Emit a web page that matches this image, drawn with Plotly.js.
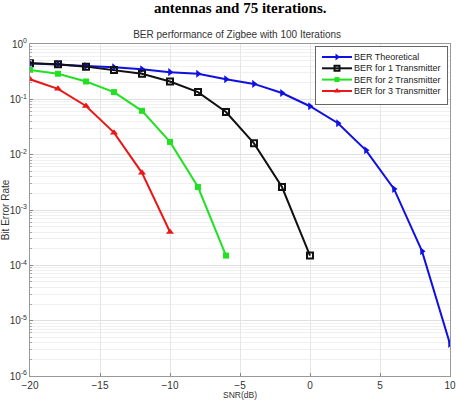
<!DOCTYPE html>
<html>
<head>
<meta charset="utf-8">
<script src="https://cdn.plot.ly/plotly-3.0.1.min.js"></script>
<style>html,body{margin:0;padding:0;background:#fff;}#chart{width:456px;height:400px;}</style>
</head>
<body>
<div id="chart"></div>
<script>
// Data
const snrTheory = [-20, -18, -16, -14, -12, -10, -8, -6, -4, -2, 0, 2, 4, 6, 8, 10];
const berTheory = [0.45, 0.43, 0.40, 0.38, 0.35, 0.31, 0.29, 0.23, 0.19, 0.13, 0.075, 0.037, 0.012, 0.0024, 1.8e-4, 3.8e-6];
const snr1 = [-20, -18, -16, -14, -12, -10, -8, -6, -4, -2, 0];
const ber1 = [0.45, 0.43, 0.39, 0.34, 0.29, 0.21, 0.135, 0.059, 0.016, 0.0026, 1.5e-4];
const snr2 = [-20, -18, -16, -14, -12, -10, -8, -6];
const ber2 = [0.34, 0.29, 0.21, 0.135, 0.062, 0.017, 0.0026, 1.5e-4];
const snr3 = [-20, -18, -16, -14, -12, -10];
const ber3 = [0.23, 0.155, 0.076, 0.025, 0.0047, 4.0e-4];
const seriesNames = ['BER Theoretical', 'BER for 1 Transmitter', 'BER for 2 Transmitter', 'BER for 3 Transmitter'];
const xTicks = [-20, -15, -10, -5, 0, 5, 10];
const yTickVals = [1, 0.1, 0.01, 0.001, 1e-4, 1e-5, 1e-6];
const yTickText = ['10<sup>0</sup>', '10<sup>-1</sup>', '10<sup>-2</sup>', '10<sup>-3</sup>', '10<sup>-4</sup>', '10<sup>-5</sup>', '10<sup>-6</sup>'];

const colors = ['#1010e0', '#111111', '#22e022', '#e81818'];
const symbols = ['triangle-right', 'square-open', 'square', 'triangle-up'];
const sizes = [7, 6, 6, 7];
const xs = [snrTheory, snr1, snr2, snr3];
const ys = [berTheory, ber1, ber2, ber3];

const FONT = 'Arial, Liberation Sans, sans-serif';
const traces = [];
for (let i = 0; i < 4; i++) {
  traces.push({x: xs[i], y: ys[i], name: seriesNames[i], mode: 'lines+markers', showlegend: false,
    line: {color: colors[i], width: 2},
    marker: {symbol: symbols[i], size: sizes[i], color: colors[i], line: {width: i === 1 ? 2 : 0, color: colors[i]}}});
}

// Legend keys drawn in a small inset subplot (legend box)
const legendRows = [10, 21.3, 32.6, 44];
const annotations = [
  {text: '<b>antennas and 75 iterations.</b>', xref: 'paper', yref: 'paper',
   x: 0.5, y: (376 - 8) / 332, xanchor: 'center', yanchor: 'middle', showarrow: false,
   font: {family: 'Liberation Serif, Times New Roman, serif', size: 15, color: '#000'}}
];
for (let i = 0; i < 4; i++) {
  traces.push({x: [6, 36], y: [legendRows[i], legendRows[i]], xaxis: 'x2', yaxis: 'y2', mode: 'lines',
    showlegend: false, hoverinfo: 'skip', line: {color: colors[i], width: 2}});
  traces.push({x: [21], y: [legendRows[i]], xaxis: 'x2', yaxis: 'y2', mode: 'markers',
    showlegend: false, hoverinfo: 'skip',
    marker: {symbol: symbols[i], size: sizes[i] - 1, color: colors[i], line: {width: i === 1 ? 2 : 0, color: colors[i]}}});
  annotations.push({text: seriesNames[i], xref: 'x2', yref: 'y2', x: 36, y: legendRows[i],
    xanchor: 'left', yanchor: 'middle', showarrow: false,
    font: {family: FONT, size: 9, color: '#222'}});
}

const axisFont = {family: FONT, size: 10, color: '#333'};

const layout = {
  width: 456, height: 400,
  margin: {l: 30, r: 6, t: 44, b: 24},
  paper_bgcolor: '#fff', plot_bgcolor: '#fff',
  font: axisFont,
  showlegend: false,
  title: {text: 'BER performance of Zigbee with 100 Iterations',
          font: {family: FONT, size: 10, color: '#333'},
          x: 0.52, xanchor: 'center', y: 1 - 34/400, yanchor: 'middle', yref: 'container'},
  xaxis: {
    range: [-20, 10], tickvals: xTicks, ticks: 'inside', ticklen: 3, tickcolor: '#888',
    showgrid: true, gridcolor: '#e6e6e6', zeroline: false,
    showline: true, mirror: true, linecolor: '#999', linewidth: 1,
    tickfont: axisFont,
    title: {text: 'SNR(dB)', font: {family: FONT, size: 8.5, color: '#333'}, standoff: 2}
  },
  yaxis: {
    type: 'log', range: [-6, 0], tickvals: yTickVals, ticktext: yTickText,
    ticks: 'inside', ticklen: 3, tickcolor: '#888',
    showgrid: true, gridcolor: '#e0e0e0', zeroline: false,
    showline: true, mirror: true, linecolor: '#999', linewidth: 1,
    tickfont: axisFont,
    minor: {dtick: 'D1', showgrid: true, gridcolor: '#f0f0f0', ticks: 'inside', ticklen: 2, tickcolor: '#aaa'},
    title: {text: 'Bit Error Rate', font: {family: FONT, size: 10, color: '#333'}, standoff: 2}
  },
  xaxis2: {domain: [(316 - 30) / 420, (447 - 30) / 420], range: [0, 131], anchor: 'y2',
    showgrid: false, zeroline: false, showticklabels: false, ticks: '',
    showline: true, mirror: true, linecolor: '#666', linewidth: 1},
  yaxis2: {domain: [(376 - 104) / 332, (376 - 47) / 332], range: [57, 0], anchor: 'x2',
    showgrid: false, zeroline: false, showticklabels: false, ticks: '',
    showline: true, mirror: true, linecolor: '#666', linewidth: 1},
  annotations: annotations
};

Plotly.newPlot('chart', traces, layout, {displayModeBar: false, staticPlot: true});
</script>
</body>
</html>
